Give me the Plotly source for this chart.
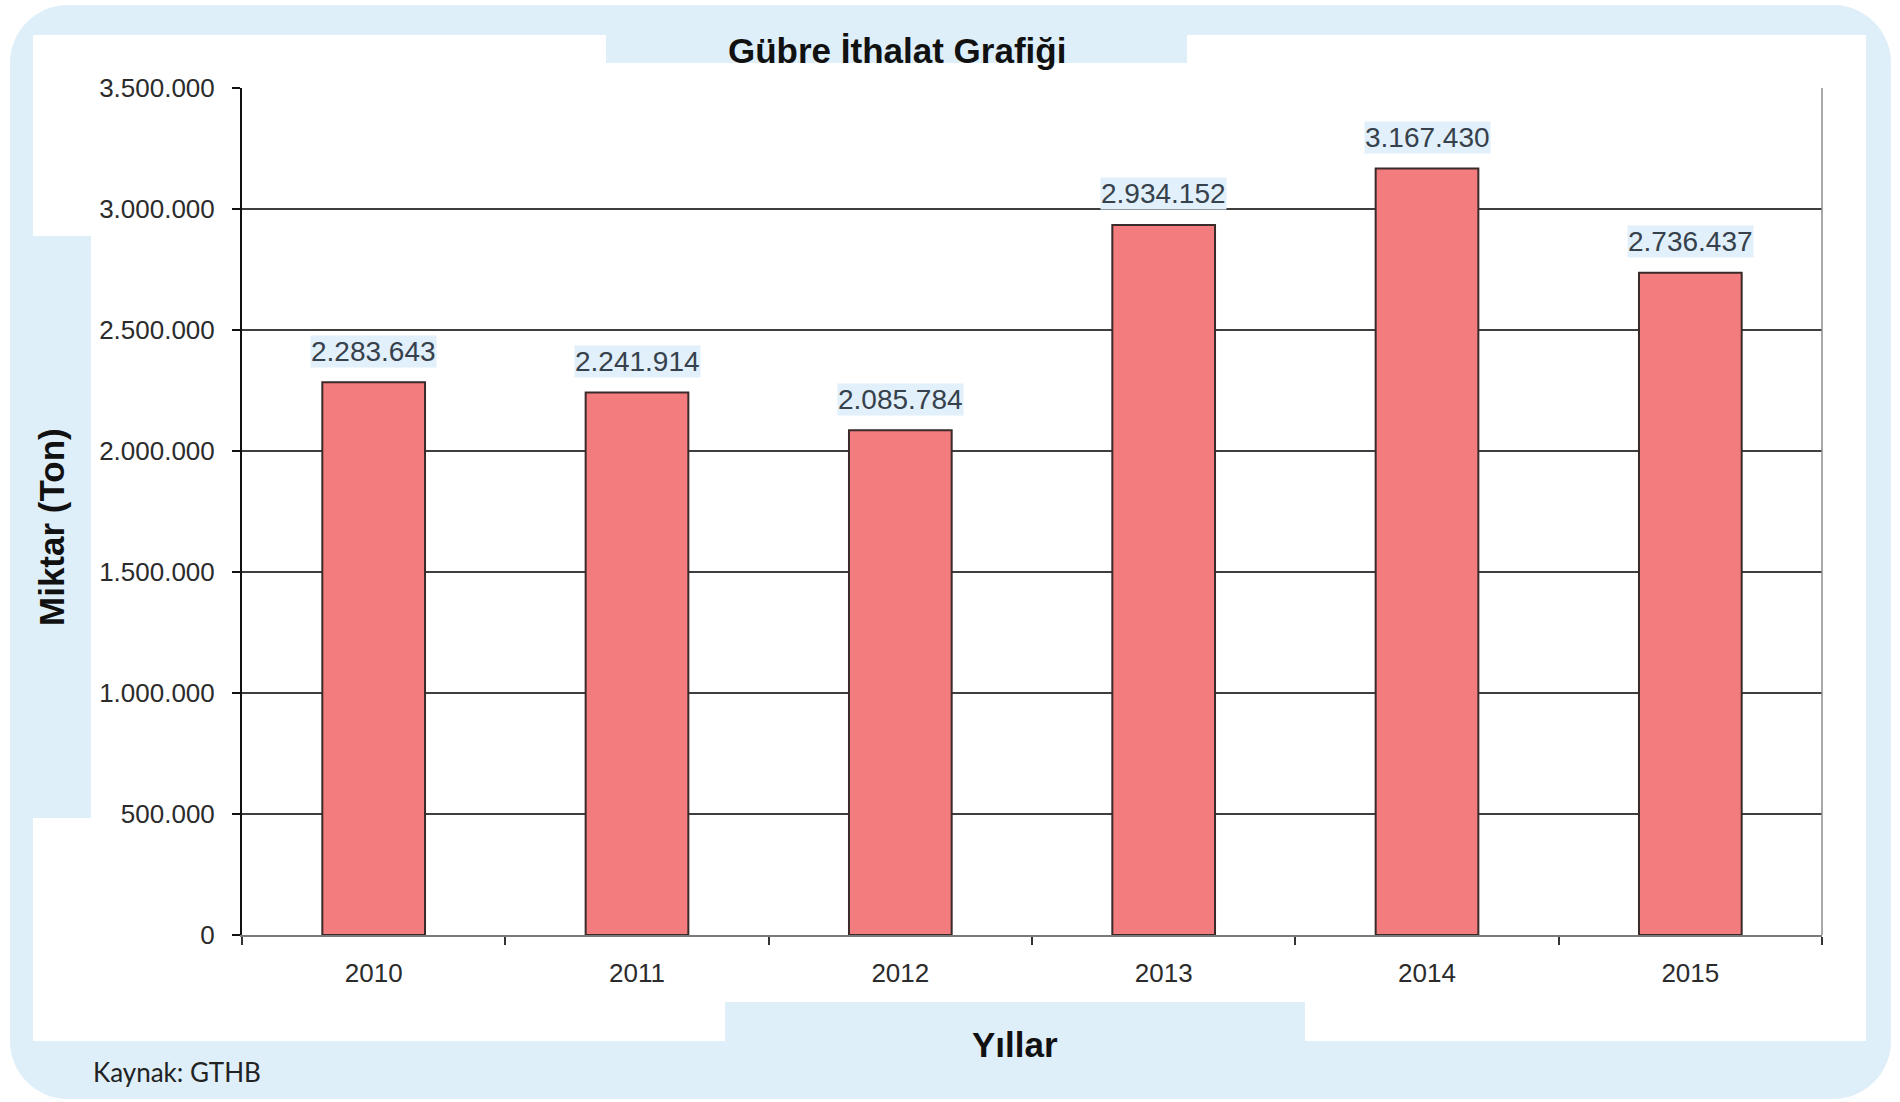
import plotly.graph_objects as go

# Fertilizer import quantities by year (tonnes)
years = ["2010", "2011", "2012", "2013", "2014", "2015"]
imports_ton = [2283643, 2241914, 2085784, 2934152, 3167430, 2736437]
y_ticks = [0, 500000, 1000000, 1500000, 2000000, 2500000, 3000000, 3500000]

title_text = "Gübre İthalat Grafiği"
x_title = "Yıllar"
y_title = "Miktar (Ton)"
source_text = "Kaynak: GTHB"

W, H = 1900, 1102
L, R, T, B = 242, 1822, 88, 935  # plot area in pixels

LIGHT_BLUE = "#DEEFFA"
BAR_FILL = "#F27C7E"


def px(x):
    return (x - L) / (R - L)


def py(y):
    return (B - y) / (B - T)


def fmt(v):
    return f"{v:,}".replace(",", ".")


def rounded_path(x0, y0, x1, y1, r):
    k = 0.5523 * r
    def p(x, y):
        return f"{px(x):.6f},{py(y):.6f}"
    return (
        f"M {p(x0 + r, y0)} L {p(x1 - r, y0)} "
        f"C {p(x1 - r + k, y0)} {p(x1, y0 + r - k)} {p(x1, y0 + r)} "
        f"L {p(x1, y1 - r)} "
        f"C {p(x1, y1 - r + k)} {p(x1 - r + k, y1)} {p(x1 - r, y1)} "
        f"L {p(x0 + r, y1)} "
        f"C {p(x0 + r - k, y1)} {p(x0, y1 - r + k)} {p(x0, y1 - r)} "
        f"L {p(x0, y0 + r)} "
        f"C {p(x0, y0 + r - k)} {p(x0 + r - k, y0)} {p(x0 + r, y0)} Z"
    )


def rect(x0, y0, x1, y1, color):
    return dict(type="rect", xref="paper", yref="paper", layer="below",
                x0=px(x0), x1=px(x1), y0=py(y1), y1=py(y0),
                fillcolor=color, line=dict(width=0))


shapes = [
    # rounded light-blue frame
    dict(type="path", xref="paper", yref="paper", layer="below",
         path=rounded_path(10, 5, 1891, 1099, 58),
         fillcolor=LIGHT_BLUE, line=dict(width=0)),
    # white panel
    rect(33, 35, 1866, 1041, "white"),
    # title, y-title and x-title tabs
    rect(606, 30, 1187, 63, LIGHT_BLUE),
    rect(28, 236, 91, 818, LIGHT_BLUE),
    rect(725, 1002, 1305, 1046, LIGHT_BLUE),
    # right border of the plot area
    dict(type="line", xref="paper", yref="paper", layer="above",
         x0=1, x1=1, y0=0, y1=1, line=dict(color="#8c8c8c", width=1.5)),
]

fig = go.Figure()
fig.add_trace(go.Bar(
    x=years, y=imports_ton,
    marker=dict(color=BAR_FILL, line=dict(color="#3a2a2a", width=2)),
    width=0.39, hoverinfo="x+y",
))

annotations = []
for i, v in enumerate(imports_ton):
    annotations.append(dict(
        x=i, y=v, xref="x", yref="y", text=fmt(v), showarrow=False,
        yanchor="middle", yshift=31, bgcolor="#E1F0FA", borderpad=0,
        font=dict(family="Liberation Sans, Arial, sans-serif", size=28, color="#36414c"),
    ))

annotations += [
    dict(x=px(897), y=py(51), xref="paper", yref="paper", text=title_text,
         showarrow=False, xanchor="center", yanchor="middle",
         font=dict(family="Liberation Sans, Arial, sans-serif", size=35,
                   color="#111111", weight="bold")),
    dict(x=px(1015), y=py(1044), xref="paper", yref="paper", text=x_title,
         showarrow=False, xanchor="center", yanchor="middle",
         font=dict(family="Liberation Sans, Arial, sans-serif", size=35,
                   color="#111111", weight="bold")),
    dict(x=px(51), y=py(527), xref="paper", yref="paper", text=y_title,
         showarrow=False, xanchor="center", yanchor="middle", textangle=-90,
         font=dict(family="Liberation Sans, Arial, sans-serif", size=35,
                   color="#111111", weight="bold")),
    dict(x=px(91), y=py(1072), xref="paper", yref="paper", text=source_text,
         showarrow=False, xanchor="left", yanchor="middle",
         font=dict(family="Lato, Open Sans, sans-serif", size=26, color="#222222")),
]

tick_font = dict(family="Liberation Sans, Arial, sans-serif", size=26, color="#2b2b2b")

fig.update_layout(
    width=W, height=H,
    margin=dict(l=L, r=W - R, t=T, b=H - B, pad=0),
    paper_bgcolor="white", plot_bgcolor="rgba(0,0,0,0)",
    separators=",.",
    showlegend=False,
    shapes=shapes,
    annotations=annotations,
    xaxis=dict(
        type="category", categoryorder="array", categoryarray=years,
        range=[-0.5, len(years) - 0.5], autorange=False,
        showgrid=False, showline=True, linecolor="#7a7a7a",
        linewidth=2, ticks="outside", tickson="boundaries", ticklen=8,
        tickwidth=2, tickcolor="#333333", tickfont=tick_font, tickangle=0,
        ticklabelstandoff=14, zeroline=False,
    ),
    yaxis=dict(
        range=[0, 3500000], autorange=False, tickvals=y_ticks, tickformat=",d",
        showgrid=True, gridcolor="#3e3e3e", gridwidth=2,
        showline=True, linecolor="#111111", linewidth=2,
        ticks="outside", ticklen=8, tickwidth=2, tickcolor="#111111",
        tickfont=tick_font, ticklabelstandoff=12,
        zeroline=False,
    ),
)

fig.write_html("out.html")
